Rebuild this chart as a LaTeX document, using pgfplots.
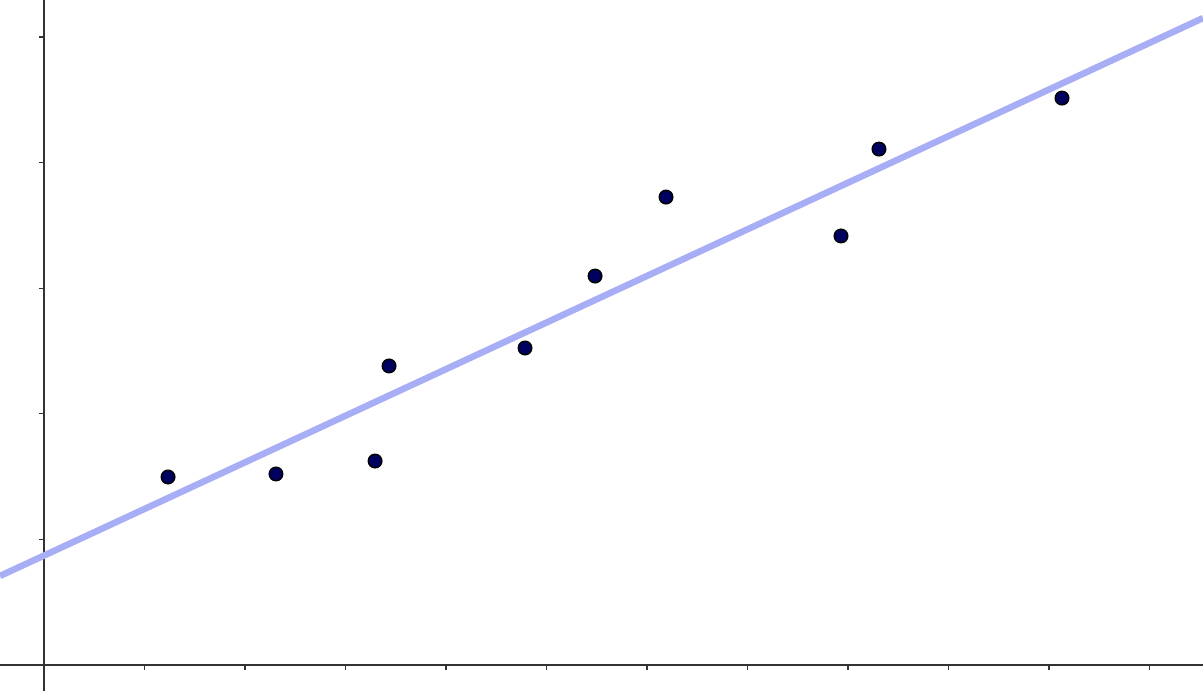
\documentclass[border=0pt]{standalone}
\usepackage{pgfplots}
\pgfplotsset{compat=1.18}
\definecolor{linecol}{HTML}{A8AEF5}
\definecolor{dotcol}{HTML}{00005E}
\begin{document}
\begin{tikzpicture}
\begin{axis}[name=ax,
  scale only axis, width=1203pt, height=691pt,
  xmin=-0.438, xmax=11.532, ymin=-0.207, ymax=5.295,
  axis lines=middle, axis line style={-, line width=1.3pt, color=black!80},
  tick align=outside, major tick length=5pt,
  tick style={line width=1.2pt, color=black!80},
  xtick={0,1,...,11}, ytick={0,1,...,5},
  xticklabels={}, yticklabels={},
  clip=true]
\addplot[linecol, line width=6.5pt] coordinates {(-0.438,0.709) (11.532,5.151)};
\addplot[only marks, mark=*, mark size=6.8pt, mark options={fill=dotcol, draw=black, line width=1.4pt}] coordinates {
(1.234,1.497) (2.308,1.521) (3.294,1.624) (3.433,2.381) (4.786,2.524)
(5.483,3.097) (6.189,3.726) (7.930,3.416) (8.308,4.108) (10.129,4.514)};
\end{axis}
\pgfresetboundingbox
\path (ax.south west) rectangle (ax.north east);
\end{tikzpicture}
\end{document}
